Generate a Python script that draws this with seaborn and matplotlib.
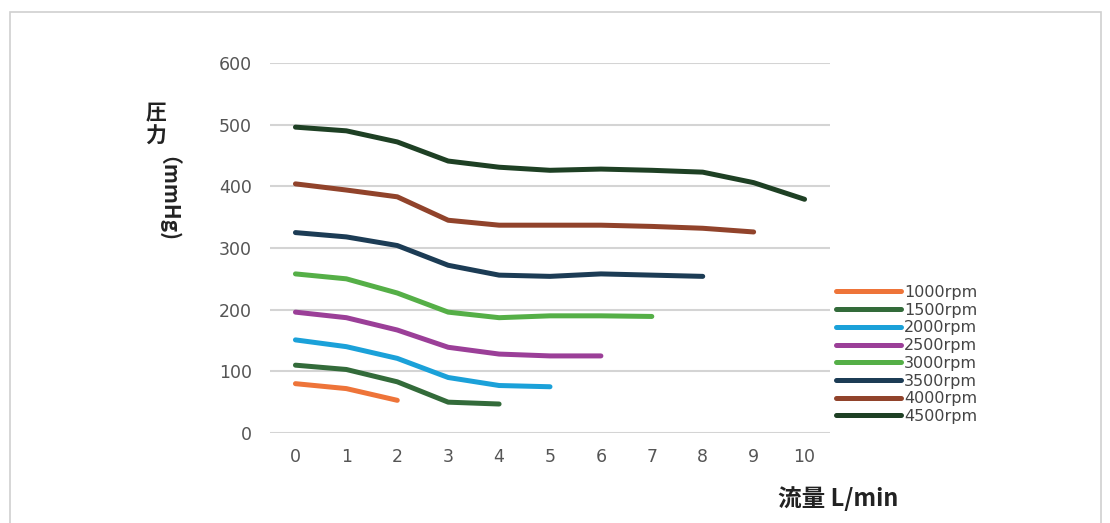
import numpy as np
import pandas as pd
import matplotlib
matplotlib.use("Agg")
import matplotlib.pyplot as plt
from matplotlib.patches import Rectangle
import seaborn as sns

series_names = ["1000rpm", "1500rpm", "2000rpm", "2500rpm", "3000rpm", "3500rpm", "4000rpm", "4500rpm"]
rpm1000 = [80, 72, 53]
rpm1500 = [110, 103, 83, 50, 47]
rpm2000 = [151, 140, 121, 90, 77, 75]
rpm2500 = [196, 187, 167, 139, 128, 125, 125]
rpm3000 = [258, 250, 227, 196, 187, 190, 190, 189]
rpm3500 = [325, 318, 304, 272, 256, 254, 258, 256, 254]
rpm4000 = [404, 394, 383, 345, 337, 337, 337, 335, 332, 326]
rpm4500 = [496, 490, 472, 441, 431, 426, 428, 426, 423, 406, 379]
series_values = [rpm1000, rpm1500, rpm2000, rpm2500, rpm3000, rpm3500, rpm4000, rpm4500]
colors = ["#EE7439", "#336B3A", "#1BA1D9", "#9B3F98", "#55AF47", "#1C3C55", "#91432B", "#1E4024"]
x_ticks = list(range(0, 11))
y_ticks = [0, 100, 200, 300, 400, 500, 600]

rows = []
for name, vals in zip(series_names, series_values):
    for i, v in enumerate(vals):
        rows.append({"flow": i, "pressure": v, "rpm": name})
df = pd.DataFrame(rows)

sns.set_style("white")
plt.rcParams["font.family"] = ["DejaVu Sans", "Noto Sans CJK JP"]
CJK = ["Noto Sans CJK JP", "DejaVu Sans"]

fig = plt.figure(figsize=(11.10, 5.23), dpi=100)
ax = fig.add_axes([270 / 1110, 1 - 433 / 523, 560 / 1110, 370 / 523])

palette = dict(zip(series_names, colors))
sns.lineplot(data=df, x="flow", y="pressure", hue="rpm", hue_order=series_names,
             palette=palette, linewidth=3.6, ax=ax, legend=False,
             solid_capstyle="round", solid_joinstyle="round")

ax.set_xlim(-0.5, 10.5)
ax.set_ylim(0, 600)
ax.set_xticks(x_ticks)
ax.set_yticks(y_ticks)
ax.grid(axis="y", color="#d4d4d4", linewidth=1.5)
ax.grid(axis="x", visible=False)
ax.set_axisbelow(True)
for s in ax.spines.values():
    s.set_visible(False)
ax.tick_params(axis="both", length=0, labelsize=12.5, colors="#555555")
ax.tick_params(axis="y", pad=13)
ax.tick_params(axis="x", pad=11)
ax.set_xlabel("")
ax.set_ylabel("")

# y label (vertical Japanese style)
fig.text(156 / 1110, 1 - 113 / 523, "圧", ha="center", va="center", fontsize=15,
         fontweight="bold", color="#222222", family=CJK)
fig.text(156 / 1110, 1 - 136 / 523, "力", ha="center", va="center", fontsize=15,
         fontweight="bold", color="#222222", family=CJK)
fig.text(156 / 1110, 1 - 204 / 523, "（mmHg)", ha="center", va="center", rotation=-90, fontsize=15,
         fontweight="bold", color="#222222", family=CJK)

# x label
fig.text(838 / 1110, 1 - 499 / 523, "流量 L/min", ha="center", va="center", fontsize=17,
         fontweight="bold", color="#222222", family=CJK)

# legend
handles = [plt.Line2D([0], [0], color=c, linewidth=3.6, solid_capstyle="round") for c in colors]
leg = fig.legend(handles, series_names, loc="upper left", bbox_to_anchor=(836 / 1110, 1 - 285 / 523),
                 frameon=False, fontsize=11.5, handlelength=4.1, handletextpad=0.15,
                 labelspacing=0.17, borderpad=0, borderaxespad=0)
for t in leg.get_texts():
    t.set_color("#444444")

# outer border
fig.patches.append(Rectangle((10 / 1110, -0.05), 1091 / 1110, 1 - 12 / 523 + 0.05,
                             transform=fig.transFigure, fill=False, edgecolor="#d0d0d0", linewidth=1.2))

fig.savefig("out.png", dpi=100)
